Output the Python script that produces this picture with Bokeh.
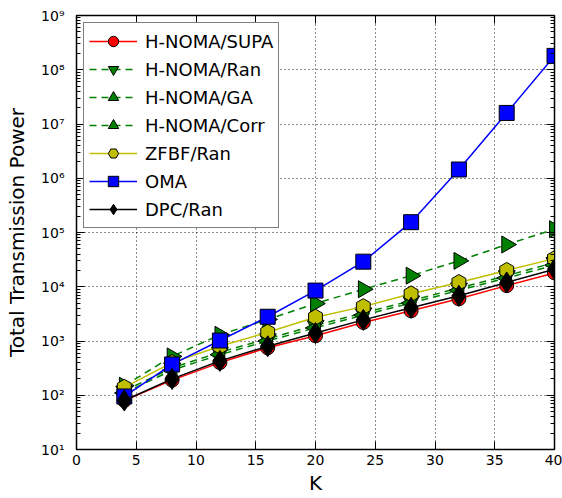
import numpy as np
from bokeh.plotting import figure
from bokeh.models import LinearAxis, LogAxis, FixedTicker, Legend, LegendItem
from bokeh.embed import file_html
from bokeh.resources import INLINE

# ---- data ----
K = [4, 8, 12, 16, 20, 24, 28, 32, 36, 40]
supa = [80, 190, 400, 750, 1250, 2200, 3600, 6000, 10500, 18000]
ran = [120, 320, 620, 1100, 1950, 3300, 5500, 9500, 16000, 28000]
ga = [110, 290, 560, 1000, 1750, 3000, 5000, 8600, 14500, 25000]
corr = [150, 520, 1300, 2500, 4900, 9000, 16000, 30000, 60000, 115000]
zfbf = [140, 400, 800, 1450, 2750, 4300, 7400, 12000, 20000, 33000]
oma = [95, 370, 1020, 2800, 8500, 29000, 155000, 1450000, 16000000, 180000000]
dpc = [80, 200, 430, 800, 1400, 2450, 4100, 6800, 12000, 21000]

series_names = ["H-NOMA/SUPA", "H-NOMA/Ran", "H-NOMA/GA", "H-NOMA/Corr",
                "ZFBF/Ran", "OMA", "DPC/Ran"]

x_ticks = [0, 5, 10, 15, 20, 25, 30, 35, 40]
y_ticks = [10, 100, 1000, 10000, 100000, 1000000, 10000000, 100000000, 1000000000]
y_tick_labels = ["10¹", "10²", "10³", "10⁴", "10⁵", "10⁶", "10⁷", "10⁸", "10⁹"]

FONT = "DejaVu Sans"

p = figure(width=562, height=498, y_axis_type="log",
           x_range=(0, 40), y_range=(10, 1e9),
           output_backend="svg", toolbar_location=None,
           min_border_left=76, min_border_right=8, min_border_top=15,
           min_border_bottom=49,
           background_fill_color="white", border_fill_color="white")

minor = [m * t for t in y_ticks[:-1] for m in range(2, 10)]
xt = FixedTicker(ticks=x_ticks, minor_ticks=[])
yt = FixedTicker(ticks=y_ticks, minor_ticks=minor)

p.outline_line_color = "black"
p.outline_line_width = 1.5

def style_axis(ax, labels=True):
    ax.major_tick_in = 8
    ax.major_tick_out = 0
    ax.minor_tick_in = 4
    ax.minor_tick_out = 0
    ax.axis_line_color = "black"
    ax.major_tick_line_color = "black"
    ax.minor_tick_line_color = "black"
    ax.major_label_text_font = FONT
    ax.axis_label_text_font = FONT
    ax.axis_label_text_font_style = "normal"
    ax.axis_label_text_color = "black"
    if labels:
        ax.major_label_text_font_size = "14px"
        ax.major_label_text_color = "black"
    else:
        ax.major_label_text_font_size = "1px"
        ax.major_label_text_color = None
        ax.major_label_standoff = 0

xa = p.xaxis[0]
xa.ticker = xt
style_axis(xa)
xa.axis_label = "K"
xa.axis_label_text_font_size = "20px"
xa.major_label_standoff = 5
xa.axis_label_standoff = 3

ya = p.yaxis[0]
ya.ticker = yt
style_axis(ya)
ya.major_label_overrides = {t: l for t, l in zip(y_ticks, y_tick_labels)}
ya.axis_label = "Total Transmission Power"
ya.axis_label_text_font_size = "20px"
ya.major_label_standoff = 12
ya.axis_label_standoff = 9

top = LinearAxis(ticker=xt)
style_axis(top, labels=False)
p.add_layout(top, "above")
right = LogAxis(ticker=yt)
style_axis(right, labels=False)
p.add_layout(right, "right")

p.xgrid.ticker = xt
p.ygrid.ticker = yt
for g in (p.xgrid[0], p.ygrid[0]):
    g.grid_line_color = "black"
    g.grid_line_dash = "1 3"
    g.grid_line_width = 1
    g.grid_line_alpha = 0.9

specs = [
    (supa, "red", "solid", "circle", 14, 0.0),
    (ran, "green", "7 5", "inverted_triangle", 17, 0.0),
    (ga, "green", "7 5", "triangle", 17, np.pi / 2),
    (corr, "green", "7 5", "triangle", 17, -np.pi / 2),
    (zfbf, "#bfbf00", "solid", "hex", 16, np.pi / 6),
    (oma, "blue", "solid", "square", 15, 0.0),
    (dpc, "black", "solid", "diamond", 21, 0.0),
]

items = []
for name, (vals, col, dash, marker, size, ang) in zip(series_names, specs):
    lr = p.line(K, vals, line_color=col, line_width=1.5, line_dash=dash)
    sr = p.scatter(K, vals, marker=marker, size=size, angle=ang,
                   fill_color=col, line_color="black", line_width=1)
    items.append(LegendItem(label=name, renderers=[lr, sr]))

legend = Legend(items=items, location="top_left")
legend.label_text_font = FONT
legend.label_text_font_size = "18px"
legend.label_text_color = "black"
legend.glyph_width = 48
legend.glyph_height = 26
legend.label_height = 26
legend.spacing = 2
legend.padding = 5
legend.margin = 7
legend.label_standoff = 8
legend.border_line_color = "black"
legend.border_line_width = 1.5
legend.background_fill_alpha = 1
p.add_layout(legend)

open("out.html", "w").write(file_html(p, INLINE))
